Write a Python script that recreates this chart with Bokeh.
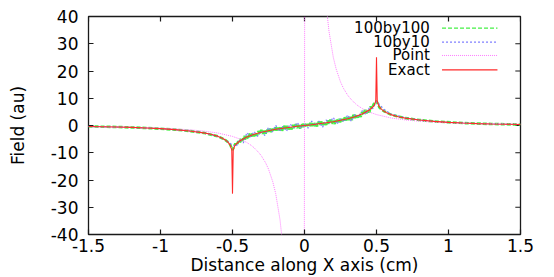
from bokeh.plotting import figure
from bokeh.models import Range1d, LinearAxis, FixedTicker, Label
from bokeh.embed import file_html
from bokeh.resources import INLINE

# ---------------- data ----------------
x_ticks = [-1.5, -1, -0.5, 0, 0.5, 1, 1.5]
x_tick_labels = ["-1.5", "-1", "-0.5", "0", "0.5", "1", "1.5"]
y_ticks = [-40, -30, -20, -10, 0, 10, 20, 30, 40]
y_tick_labels = ["-40", "-30", "-20", "-10", "0", "10", "20", "30", "40"]

series_names = ["100by100", "10by10", "Point", "Exact"]

# Exact
exact_x = [-1.5, -1.4, -1.3, -1.2, -1.1, -1.0, -0.9, -0.8, -0.7, -0.65, -0.6, -0.57,
           -0.55, -0.53, -0.515, -0.505, -0.5, -0.495, -0.485, -0.47, -0.45, -0.42,
           -0.4, -0.35, -0.3, -0.25, -0.2, -0.15, -0.1, -0.05, 0.0,
           0.05, 0.1, 0.15, 0.2, 0.25, 0.3, 0.35, 0.4, 0.42, 0.45, 0.47, 0.485,
           0.495, 0.5, 0.505, 0.515, 0.53, 0.55, 0.57, 0.6, 0.65, 0.7, 0.8, 0.9,
           1.0, 1.1, 1.2, 1.3, 1.4, 1.5]
exact_y = [-0.35, -0.45, -0.55, -0.7, -0.9, -1.15, -1.5, -2.0, -2.7, -3.2, -4.0, -4.7,
           -5.3, -6.2, -7.3, -9.0, -25.0, -9.0, -7.5, -6.6, -5.7, -4.8,
           -4.2, -3.2, -2.5, -1.9, -1.4, -1.0, -0.65, -0.3, 0.0,
           0.3, 0.65, 1.0, 1.4, 1.9, 2.5, 3.2, 4.2, 4.8, 5.7, 6.6, 7.5,
           9.0, 25.0, 9.0, 7.3, 6.2, 5.3, 4.7, 4.0, 3.2, 2.7, 2.0, 1.5,
           1.15, 0.9, 0.7, 0.55, 0.45, 0.35]

# Point
point_x = [-1.5, -1.3, -1.1, -1.0, -0.9, -0.8, -0.7, -0.6, -0.5, -0.45, -0.4, -0.37,
           -0.35, -0.32, -0.3, -0.27, -0.25, -0.22, -0.2, -0.17, -0.15, -0.1, -0.03,
           0.03, 0.1, 0.15, 0.17, 0.2, 0.22, 0.25, 0.27, 0.3, 0.32, 0.35, 0.37, 0.4,
           0.45, 0.5, 0.6, 0.7, 0.8, 0.9, 1.0, 1.1, 1.3, 1.5]
point_y = [-0.45, -0.6, -0.83, -1.0, -1.23, -1.56, -2.04, -2.78, -4.0, -4.94, -6.25, -7.3,
           -8.16, -9.8, -11.1, -13.7, -16.0, -20.7, -25.0, -34.6, -44.4, -100.0, -1111.0,
           1111.0, 100.0, 44.4, 34.6, 25.0, 20.7, 16.0, 13.7, 11.1, 9.8, 8.16, 7.3, 6.25,
           4.94, 4.0, 2.78, 2.04, 1.56, 1.23, 1.0, 0.83, 0.6, 0.45]

# 100by100
fine_x = [-1.5, -1.3, -1.1, -0.9, -0.8, -0.7, -0.6, -0.55, -0.52, -0.5,
          -0.48, -0.47, -0.46, -0.45, -0.44, -0.43, -0.42, -0.41, -0.40, -0.39,
          -0.38, -0.37, -0.36, -0.35, -0.34, -0.33, -0.32, -0.31, -0.30, -0.29,
          -0.28, -0.27, -0.26, -0.25, -0.24, -0.23, -0.22, -0.21, -0.20, -0.19,
          -0.18, -0.17, -0.16, -0.15, -0.14, -0.13, -0.12, -0.11, -0.10, -0.09,
          -0.08, -0.07, -0.06, -0.05, -0.04, -0.03, -0.02, -0.01, 0.00,
          0.01, 0.02, 0.03, 0.04, 0.05, 0.06, 0.07, 0.08, 0.09, 0.10,
          0.11, 0.12, 0.13, 0.14, 0.15, 0.16, 0.17, 0.18, 0.19, 0.20,
          0.21, 0.22, 0.23, 0.24, 0.25, 0.26, 0.27, 0.28, 0.29, 0.30,
          0.31, 0.32, 0.33, 0.34, 0.35, 0.36, 0.37, 0.38, 0.39, 0.40,
          0.41, 0.42, 0.43, 0.44, 0.45, 0.46, 0.47, 0.48,
          0.5, 0.52, 0.55, 0.6, 0.7, 0.8, 0.9, 1.1, 1.3, 1.5]
fine_y = [-0.35, -0.55, -0.9, -1.5, -2.0, -2.7, -4.0, -5.3, -6.6, -9.0,
          -6.6, -7.3, -5.8, -6.5, -4.7, -5.6, -3.9, -5.1, -3.9, -4.9,
          -3.0, -4.0, -2.8, -3.9, -2.7, -3.7, -2.1, -3.1, -1.6, -3.0,
          -2.0, -3.0, -1.2, -2.3, -1.2, -2.4, -1.2, -2.3, -0.7, -1.8,
          -0.3, -1.8, -0.8, -1.9, -0.1, -1.3, -0.2, -1.4, -0.3, -1.4,
          0.2, -0.9, 0.5, -0.9, 0.1, -1.1, 0.7, -0.5, 0.6,
          -0.6, 0.5, -0.6, 0.9, -0.2, 1.3, -0.2, 0.8, -0.3, 1.5,
          0.3, 1.4, 0.2, 1.3, 0.2, 1.8, 0.7, 2.1, 0.7, 1.7,
          0.6, 2.4, 1.3, 2.4, 1.2, 2.4, 1.3, 3.0, 1.9, 3.4,
          2.0, 3.1, 2.0, 3.9, 2.8, 4.0, 2.9, 4.2, 3.2, 4.9,
          4.0, 5.7, 4.5, 5.7, 4.8, 7.0, 6.2, 7.8,
          9.0, 6.6, 5.3, 4.0, 2.7, 2.0, 1.5, 0.9, 0.55, 0.35]

# 10by10
coarse_x = [-1.5, -1.2, -1.0, -0.8, -0.7, -0.6, -0.55,
            -0.5, -0.475, -0.45, -0.425, -0.4, -0.375, -0.35, -0.325, -0.3, -0.275,
            -0.25, -0.225, -0.2, -0.175, -0.15, -0.125, -0.1, -0.075, -0.05, -0.025,
            0.0, 0.025, 0.05, 0.075, 0.1, 0.125, 0.15, 0.175, 0.2, 0.225,
            0.25, 0.275, 0.3, 0.325, 0.35, 0.375, 0.4, 0.425, 0.45, 0.475, 0.5,
            0.55, 0.6, 0.7, 0.8, 1.0, 1.2, 1.5]
coarse_y = [-0.35, -0.7, -1.15, -2.0, -2.7, -4.0, -5.3,
            -7.2, -7.8, -5.1, -6.4, -2.6, -4.2, -2.2, -4.0, -2.1, -3.7,
            -0.7, -2.4, 0.1, -2.2, -0.3, -2.1, 0.5, -0.9, 1.1, -1.0,
            0.5, -1.0, 1.6, -0.1, 1.6, -0.7, 2.0, 0.9, 3.0, 0.5,
            2.5, 1.3, 3.9, 1.5, 4.0, 3.2, 5.4, 4.0, 6.4, 6.3, 8.9,
            6.0, 4.2, 2.8, 2.0, 1.15, 0.7, 0.35]

# ---------------- styling ----------------
FONT = "DejaVu Sans"
FS = "17px"
KEY_FS = "15px"
C_GREEN = "#44f044"
C_BLUE = "#7f7fff"
C_MAGENTA = "#ff7cff"
C_RED = "#ff2a2a"
FRAME = "#1a1a1a"

p = figure(width=554, height=277, output_backend="svg", toolbar_location=None,
           x_range=Range1d(-1.5, 1.5), y_range=Range1d(-40, 40),
           x_axis_type=None, y_axis_type=None,
           min_border_left=88, min_border_right=34, min_border_top=16, min_border_bottom=43)
p.background_fill_color = "white"
p.border_fill_color = "white"
p.outline_line_color = FRAME
p.outline_line_width = 1.3
p.xgrid.visible = False
p.ygrid.visible = False


def make_axis(ticks, labels, title):
    ax = LinearAxis(ticker=FixedTicker(ticks=ticks))
    ax.major_label_overrides = {t: l for t, l in zip(ticks, labels)}
    ax.axis_line_color = None
    ax.major_tick_in = 5
    ax.major_tick_out = 0
    ax.major_tick_line_color = FRAME
    ax.major_tick_line_width = 1.2
    ax.minor_tick_line_color = None
    ax.major_label_text_font = FONT
    ax.major_label_text_font_size = FS
    ax.major_label_text_color = "black"
    ax.axis_label = title
    ax.axis_label_text_font = FONT
    ax.axis_label_text_font_size = FS
    ax.axis_label_text_font_style = "normal"
    ax.axis_label_text_color = "black"
    return ax


xb = make_axis(x_ticks, x_tick_labels, "Distance along X axis (cm)")
xb.major_label_standoff = 4
xb.axis_label_standoff = 0
yl = make_axis(y_ticks, y_tick_labels, "Field (au)")
yl.major_label_standoff = 10
yl.axis_label_standoff = 20
p.add_layout(xb, "below")
p.add_layout(yl, "left")

# mirrored inward ticks on the top and right frame edges (gnuplot style)
tick_len_x = 0.036   # ~5 px in x units
tick_len_y = 1.85    # ~5 px in y units
p.segment(x0=x_ticks, y0=[40] * len(x_ticks), x1=x_ticks, y1=[40 - tick_len_y] * len(x_ticks),
          line_color=FRAME, line_width=1.2)
p.segment(x0=[1.5] * len(y_ticks), y0=y_ticks, x1=[1.5 - tick_len_x] * len(y_ticks), y1=y_ticks,
          line_color=FRAME, line_width=1.2)

p.line(fine_x, fine_y, line_color=C_GREEN, line_width=2.6, line_dash="4 2")
p.line(coarse_x, coarse_y, line_color=C_BLUE, line_width=1.2, line_dash="2 2")
p.line(point_x, point_y, line_color=C_MAGENTA, line_width=1.0, line_dash="1 1")
p.line(exact_x, exact_y, line_color=C_RED, line_width=1.1)

# ---------------- key (text left, sample right, like the original) ----------------
key_text_x = 0.87
key_x0, key_x1 = 0.955, 1.34
key_rows = [35.7, 30.6, 25.7, 20.4]
key_styles = [(C_GREEN, "4 2", 1.3), (C_BLUE, "2 2", 1.2), (C_MAGENTA, "1 1", 1.0), (C_RED, "solid", 1.1)]
for name, yy, (col, dash, lw) in zip(series_names, key_rows, key_styles):
    p.add_layout(Label(x=key_text_x, y=yy, text=name, text_align="right",
                       text_baseline="middle", text_font=FONT, text_font_size=KEY_FS,
                       text_color="black"))
    p.line([key_x0, key_x1], [yy, yy], line_color=col, line_dash=dash, line_width=lw)

open("out.html", "w").write(file_html(p, INLINE))
